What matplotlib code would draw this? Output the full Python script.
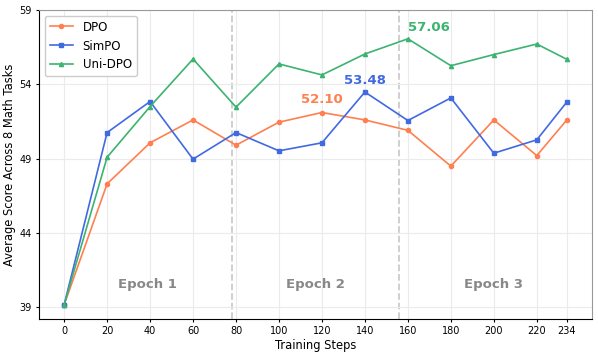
import matplotlib
matplotlib.use("Agg")
import matplotlib.pyplot as plt

steps = [0, 20, 40, 60, 80, 100, 120, 140, 160, 180, 200, 220, 234]
dpo = [39.15, 47.3, 50.06, 51.6, 49.9, 51.45, 52.10, 51.6, 50.9, 48.49, 51.6, 49.2, 51.6]
simpo = [39.15, 50.75, 52.84, 48.96, 50.75, 49.52, 50.06, 53.48, 51.56, 53.08, 49.36, 50.26, 52.81]
unidpo = [39.15, 49.09, 52.5, 55.7, 52.46, 55.37, 54.63, 56.04, 57.06, 55.25, 56.0, 56.71, 55.68]
xticks = [0, 20, 40, 60, 80, 100, 120, 140, 160, 180, 200, 220, 234]
yticks = [39, 44, 49, 54, 59]
epoch_bounds = [78, 156]
epoch_labels = ["Epoch 1", "Epoch 2", "Epoch 3"]
epoch_label_x = [39, 117, 200]

c_dpo = "#FF7F50"
c_simpo = "#4169E1"
c_uni = "#3CB371"

fig = plt.figure(figsize=(5.98, 3.56), dpi=100)
ax = fig.add_axes([39/598, 1 - 319/356, (592-39)/598, (319-10)/356])

ax.plot(steps, dpo, color=c_dpo, marker="o", markersize=3, linewidth=1.2, label="DPO")
ax.plot(steps, simpo, color=c_simpo, marker="s", markersize=3, linewidth=1.2, label="SimPO")
ax.plot(steps, unidpo, color=c_uni, marker="^", markersize=3, linewidth=1.2, label="Uni-DPO")

for b in epoch_bounds:
    ax.axvline(b, color="#cccccc", linestyle="--", linewidth=1.3, zorder=0)

for lab, xx in zip(epoch_labels, epoch_label_x):
    ax.text(xx, 40.5, lab, ha="center", va="center", fontsize=9.5, fontweight="bold", color="#888888")

i = dpo.index(max(dpo))
ax.text(steps[i], dpo[i] + 0.45, f"{dpo[i]:.2f}", ha="center", va="bottom", fontsize=9.5, fontweight="bold", color=c_dpo)
i = simpo.index(max(simpo))
ax.text(steps[i], simpo[i] + 0.35, f"{simpo[i]:.2f}", ha="center", va="bottom", fontsize=9.5, fontweight="bold", color=c_simpo)
i = unidpo.index(max(unidpo))
ax.text(steps[i], unidpo[i] + 0.35, f"{unidpo[i]:.2f}", ha="left", va="bottom", fontsize=9.5, fontweight="bold", color=c_uni)

ax.set_xticks(xticks)
ax.set_yticks(yticks)
ax.set_xlim(-11.7, 245.7)
ax.set_ylim(38.2, 59)
ax.tick_params(labelsize=7, length=2, pad=3)
ax.grid(True, color="#ebebeb", linewidth=0.8)
ax.set_axisbelow(True)
ax.set_xlabel("Training Steps", fontsize=8.3, labelpad=2.5)
ax.set_ylabel("Average Score Across 8 Math Tasks", fontsize=8.3, labelpad=3)
for s in ["top", "right"]:
    ax.spines[s].set_color("#999999")
ax.legend(loc="upper left", fontsize=8.5, framealpha=1)

fig.savefig("out.png", dpi=100)
